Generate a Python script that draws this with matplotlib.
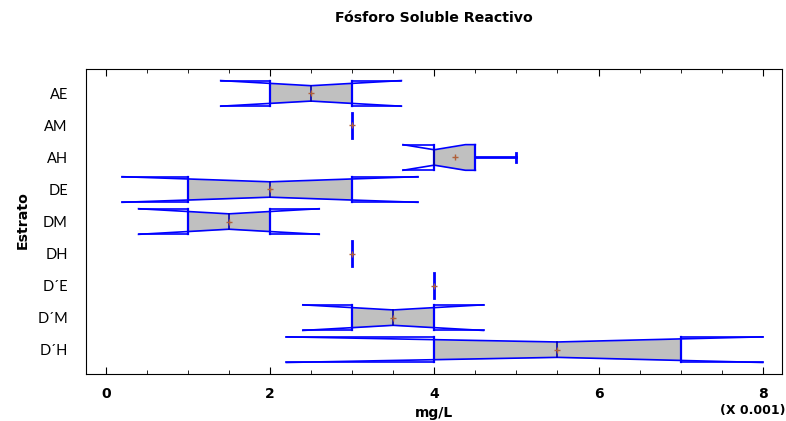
import matplotlib.pyplot as plt
import numpy as np
from matplotlib.ticker import MultipleLocator

# datos (mg/L x 0.001)
estratos = ["AE", "AM", "AH", "DE", "DM", "DH", "D´E", "D´M", "D´H"]
q1 = [2, 3, 4, 1, 1, 3, 4, 3, 4]
mediana = [2.5, 3, 4, 2, 1.5, 3, 4, 3.5, 5.5]
q3 = [3, 3, 4.5, 3, 2, 3, 4, 4, 7]
media = [2.5, 3, 4.25, 2, 1.5, 3, 4, 3.5, 5.5]
muesca_inf = [1.4, 3, 3.62, 0.2, 0.4, 3, 4, 2.4, 2.2]
muesca_sup = [3.6, 3, 4.38, 3.8, 2.6, 3, 4, 4.6, 8.0]
bigote_sup = [3, 3, 5, 3, 2, 3, 4, 4, 7]

azul = "#0000FF"
gris = "#C0C0C0"
marron = "#B0603A"
H = 0.40   # media altura de la caja
hn = 0.24  # media altura en la mediana

negrita = ["DejaVu Sans"]

fig = plt.figure(figsize=(7.86, 4.21), dpi=100)
ax = fig.add_axes([0.1094, 0.1116, 0.8851, 0.7244])


def altura(x, lo, med, hi):
    if x <= lo or x >= hi:
        return H
    if x <= med:
        return H - (H - hn) * (x - lo) / (med - lo) if med > lo else hn
    return hn + (H - hn) * (x - med) / (hi - med) if hi > med else hn


for i, nombre in enumerate(estratos):
    a, m, b = q1[i], mediana[i], q3[i]
    lo, hi = muesca_inf[i], muesca_sup[i]
    if a == b:
        ax.plot([a, a], [i - 0.4, i + 0.4], color=azul, lw=2)
        ax.plot(media[i], i, marker="+", color=marron, ms=5, mew=1)
        continue
    # relleno gris de la caja
    xs = sorted(set([a, b, m] + [v for v in (lo, hi) if a < v < b]))
    hs = np.array([altura(x, lo, m, hi) for x in xs])
    ax.fill_between(xs, i - hs, i + hs, color=gris, lw=0, zorder=1)
    # contorno de la muesca
    xo = sorted(set([min(a, lo), lo, m, hi, max(b, hi)]))
    ho = np.array([altura(x, lo, m, hi) for x in xo])
    ax.plot(xo, i - ho, color=azul, lw=1.2, zorder=2)
    ax.plot(xo, i + ho, color=azul, lw=1.2, zorder=2)
    if lo < a:
        ax.plot([lo, a], [i - H, i - H], color=azul, lw=1.2, zorder=2)
        ax.plot([lo, a], [i + H, i + H], color=azul, lw=1.2, zorder=2)
    if hi > b:
        ax.plot([b, hi], [i - H, i - H], color=azul, lw=1.2, zorder=2)
        ax.plot([b, hi], [i + H, i + H], color=azul, lw=1.2, zorder=2)
    ax.plot([a, a], [i - H, i + H], color=azul, lw=1.6, zorder=2)
    ax.plot([b, b], [i - H, i + H], color=azul, lw=1.6, zorder=2)
    ax.plot([m, m], [i - hn, i + hn], color="#0000B0", lw=1.2, zorder=3)
    # bigote
    if bigote_sup[i] > b:
        ax.plot([b, bigote_sup[i]], [i, i], color=azul, lw=2, zorder=2)
        ax.plot([bigote_sup[i]] * 2, [i - 0.13, i + 0.13], color=azul, lw=2, zorder=2)
    ax.plot(media[i], i, marker="+", color=marron, ms=5, mew=1, zorder=4)

ax.set_xlim(-0.24, 8.23)
ax.set_ylim(len(estratos) - 1 + 0.76, -0.76)
ax.set_yticks(range(len(estratos)))
ax.set_yticklabels(estratos, fontsize=10.5, family=["Lato", "DejaVu Sans"])
ax.tick_params(axis="y", length=0, pad=13)

ax.xaxis.set_major_locator(MultipleLocator(2))
ax.xaxis.set_minor_locator(MultipleLocator(0.5))
ax.tick_params(axis="x", which="both", direction="in", top=True, pad=9)
ax.tick_params(axis="x", which="major", length=5)
ax.tick_params(axis="x", which="minor", length=3)
for t in ax.get_xticklabels():
    t.set_fontweight("bold")
    t.set_fontsize(10)
    t.set_family(negrita)

fig.text(0.552, 0.957, "Fósforo Soluble Reactivo", ha="center", va="center",
         fontsize=10.2, fontweight="bold", family=negrita)
fig.text(0.552, 0.020, "mg/L", ha="center", va="center",
         fontsize=10, fontweight="bold", family=negrita)
fig.text(0.999, 0.026, "(X 0.001)", ha="right", va="center",
         fontsize=9, fontweight="bold", family=negrita)
fig.text(0.029, 0.477, "Estrato", ha="center", va="center", rotation=90,
         fontsize=10.2, fontweight="bold", family=negrita)

fig.savefig("out.png", dpi=100)
